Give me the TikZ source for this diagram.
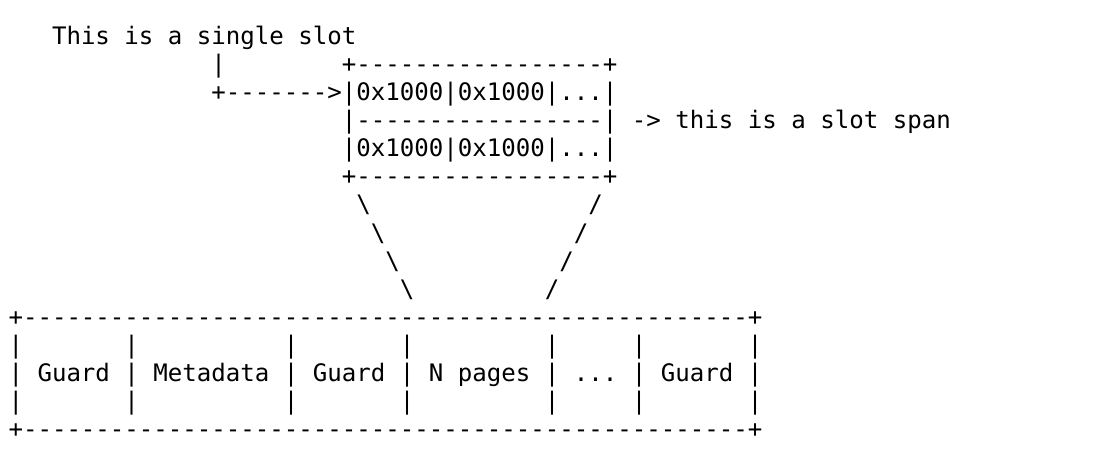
\documentclass[tikz,border=0pt]{standalone}
\usepackage{fontspec}
\setmonofont{DejaVu Sans Mono}
\newcommand{\bs}{\textbackslash}
\begin{document}
\begin{tikzpicture}[x=0.75pt,y=-0.75pt,
  ln/.style={anchor=base west, inner sep=0pt, text=black,
    font=\ttfamily\fontsize{18.06pt}{21pt}\selectfont}]
\useasboundingbox[fill=white] (0,0) rectangle (1094,470);
\node[ln] (l0)  at (8.25,45)  {~~~This~is~a~single~slot};
\node[ln] (l1)  at (8.25,73)  {~~~~~~~~~~~~~~|~~~~~~~~+-----------------+};
\node[ln] (l2)  at (8.25,101) {~~~~~~~~~~~~~~+------->|0x1000|0x1000|...|};
\node[ln] (l3)  at (8.25,129) {~~~~~~~~~~~~~~~~~~~~~~~|-----------------|~->~this~is~a~slot~span};
\node[ln] (l4)  at (8.25,157) {~~~~~~~~~~~~~~~~~~~~~~~|0x1000|0x1000|...|};
\node[ln] (l5)  at (8.25,185) {~~~~~~~~~~~~~~~~~~~~~~~+-----------------+};
\node[ln] (l6)  at (8.25,213) {~~~~~~~~~~~~~~~~~~~~~~~~\bs{}~~~~~~~~~~~~~~~/};
\node[ln] (l7)  at (8.25,241) {~~~~~~~~~~~~~~~~~~~~~~~~~\bs{}~~~~~~~~~~~~~/};
\node[ln] (l8)  at (8.25,269) {~~~~~~~~~~~~~~~~~~~~~~~~~~\bs{}~~~~~~~~~~~/};
\node[ln] (l9)  at (8.25,297) {~~~~~~~~~~~~~~~~~~~~~~~~~~~\bs{}~~~~~~~~~/};
\node[ln] (l10) at (8.25,325) {+--------------------------------------------------+};
\node[ln] (l11) at (8.25,353) {|~~~~~~~|~~~~~~~~~~|~~~~~~~|~~~~~~~~~|~~~~~|~~~~~~~|};
\node[ln] (l12) at (8.25,381) {|~Guard~|~Metadata~|~Guard~|~N~pages~|~...~|~Guard~|};
\node[ln] (l13) at (8.25,409) {|~~~~~~~|~~~~~~~~~~|~~~~~~~|~~~~~~~~~|~~~~~|~~~~~~~|};
\node[ln] (l14) at (8.25,437) {+--------------------------------------------------+};
\end{tikzpicture}
\end{document}
